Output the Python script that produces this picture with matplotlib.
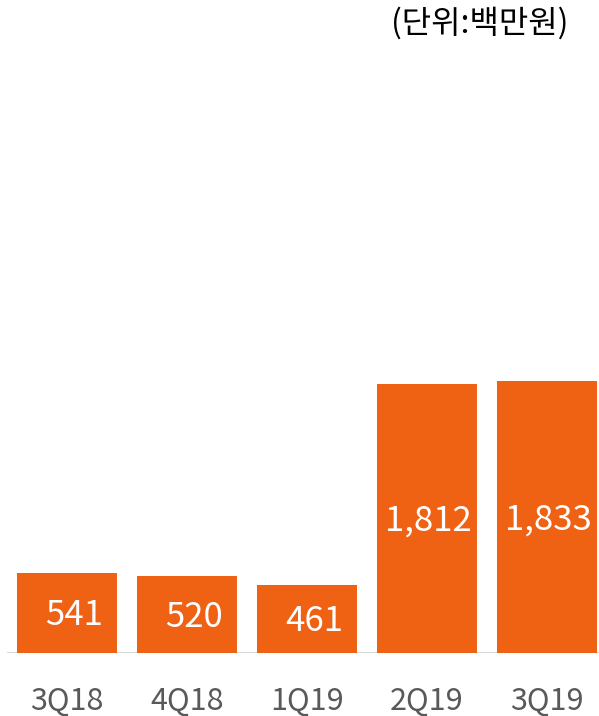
import matplotlib.pyplot as plt
import numpy as np

plt.rcParams['font.family'] = ['Noto Sans CJK KR', 'DejaVu Sans']

# data (단위: 백만원)
quarters = ["3Q18", "4Q18", "1Q19", "2Q19", "3Q19"]
values = [541, 520, 461, 1812, 1833]

bar_color = "#EF6113"
W, H = 599, 716

fig = plt.figure(figsize=(W / 100, H / 100), dpi=100)
# axes spans baseline (y=653px) up to y=40px, x from 7px to 607px
ax = fig.add_axes([7 / W, (H - 653) / H, 600 / W, 613 / H])

x = np.arange(len(quarters))
bars = ax.bar(x, values, width=100 / 120, color=bar_color, zorder=2)

ax.set_xlim(-0.5, len(quarters) - 0.5)
ax.set_ylim(0, 4131)

for rect, v in zip(bars, values):
    label = f"{v:,}"
    dx = 5 if len(label) < 4 else 1
    ax.annotate(label, (rect.get_x() + rect.get_width() / 2, v / 2),
                xytext=(dx, -2), textcoords="offset points",
                ha="center", va="center", color="white", fontsize=25)

# category labels, baseline about 709px from the top
for xi, q in zip(x, quarters):
    ax.annotate(q, (xi, 0), xytext=(0, -40.5), textcoords="offset points",
                ha="center", va="baseline", color="#595959", fontsize=22)

ax.axhline(0, color="#D9D9D9", linewidth=1.5, zorder=1)

for s in ax.spines.values():
    s.set_visible(False)
ax.set_xticks([])
ax.set_yticks([])
ax.patch.set_alpha(0)

fig.text(569 / W, 1 - 23 / H, "(단위:백만원)", ha="right", va="center",
         fontsize=23, color="black")

fig.savefig("out.png", dpi=100)
